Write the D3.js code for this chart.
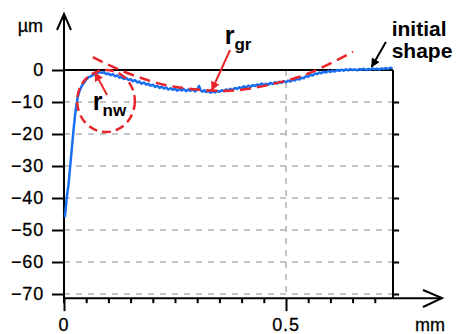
<!DOCTYPE html>
<html>
<head>
<meta charset="utf-8">
<script src="https://cdn.jsdelivr.net/npm/d3@7"></script>
<style>
  body { margin: 0; background: #fff; }
  text { font-family: "Liberation Sans", Arial, sans-serif; }
</style>
</head>
<body>
<figure id="chart" style="margin:0"></figure>
<script>
// measured profile (x in mm, depth in µm)
const profileX = [0.002,0.004,0.006,0.008,0.010,0.012,0.014,0.016,0.018,0.020,0.022,0.025,0.028,0.031,0.035,0.040,0.045,0.050,0.055,0.060,0.065,0.070,0.075,0.080,0.085,0.090,0.095,
  0.100,0.105,0.110,0.115,0.120,0.125,0.130,0.135,0.140,0.145,0.150,0.155,0.160,0.165,0.170,0.175,0.180,0.185,0.190,0.195,0.200,0.205,0.210,0.215,0.220,0.225,0.230,0.235,
  0.240,0.245,0.250,0.255,0.260,0.265,0.270,0.275,0.280,0.285,0.290,0.295,0.300,0.304,0.308,0.312,0.316,0.320,0.325,0.330,0.335,0.340,0.345,0.350,0.355,0.360,0.365,0.370,
  0.375,0.380,0.385,0.390,0.395,0.400,0.405,0.410,0.415,0.420,0.425,0.430,0.435,0.440,0.445,0.450,0.455,0.460,0.465,0.470,0.475,0.480,0.485,0.490,0.495,0.500,
  0.505,0.510,0.515,0.520,0.525,0.530,0.535,0.540,0.545,0.550,0.555,0.560,0.565,0.570,0.575,0.580,0.585,0.590,0.595,0.600,0.605,0.610,0.615,0.620,0.625,0.630,
  0.635,0.640,0.645,0.650,0.655,0.660,0.665,0.670,0.675,0.680,0.685,0.690,0.695,0.700,0.705,0.710,0.715,0.720,0.725,0.730,0.735,0.740]
const profileY = [-46,-43,-40,-38,-36,-33,-30,-27,-24,-21,-18,-14,-11,-8.5,-6.5,-5,-4,-3,-2.3,-2,-1.6,-1.2,-1.0,-0.6,-0.9,-0.7,-1.3,
  -1.1,-1.6,-1.3,-2.0,-1.7,-2.4,-2.2,-2.8,-2.5,-3.1,-2.9,-3.5,-3.2,-3.9,-3.6,-4.3,-3.9,-4.6,-4.3,-4.9,-4.6,-5.3,-4.9,-5.6,-5.2,-5.8,-5.4,-6.1,
  -5.7,-6.2,-5.8,-6.5,-5.9,-6.4,-6.0,-6.6,-6.1,-6.5,-6.0,-6.7,-6.2,-5.0,-6.4,-6.8,-6.3,-6.9,-6.5,-7.1,-6.6,-7.0,-6.5,-6.8,-6.3,-6.6,-6.1,-6.4,
  -5.9,-6.2,-5.6,-5.9,-5.4,-5.7,-5.1,-5.5,-4.9,-5.3,-4.7,-5.0,-4.5,-4.8,-4.2,-4.7,-4.3,-4.6,-4.0,-4.4,-3.8,-4.2,-3.7,-4.0,-3.5,-3.8,
  -3.3,-3.6,-3.0,-3.3,-2.7,-3.0,-2.4,-2.6,-1.9,-2.1,-1.5,-1.7,-1.1,-1.3,-0.8,-1.0,-0.5,-0.8,-0.3,-0.6,-0.2,-0.5,0.0,-0.3,0.1,-0.2,
  0.2,-0.1,0.3,0.0,0.2,-0.1,0.3,0.1,0.4,0.0,0.3,0.1,0.5,0.2,0.4,0.1,0.5,0.3,0.6,0.3,0.7,0.5]

// fitted groove radius r_gr
const grX = [0.065,0.126,0.194,0.261,0.347,0.419,0.509,0.577,0.651]
const grY = [4,0,-3.4,-5.5,-6.5,-5.8,-3.0,0.5,5.7]

// fitted nose radius r_nw (centre and radii)
const nwCircle = { cx: 0.0946, cy: -9.7, rx: 0.065, ry: 9.7 }

const yTicks = [0,-10,-20,-30,-40,-50,-60,-70]
const xTicks = [0,0.05,0.1,0.15,0.2,0.25,0.3,0.35,0.4,0.45,0.5,0.55,0.6,0.65,0.7]
const xLabels = [0,0.5]

const xMax = 0.741
const yBottom = -71.3

const svg = d3.select('#chart').append('svg')
  .attr('width', 457).attr('height', 334)

const x = d3.scaleLinear().domain([0, 0.5]).range([64, 286])
const y = d3.scaleLinear().domain([-70, 0]).range([294, 70])

const defs = svg.append('defs')
function marker(id, color) {
  defs.append('marker').attr('id', id)
    .attr('viewBox', '0 0 10 10').attr('refX', 9).attr('refY', 5)
    .attr('markerWidth', 4.5).attr('markerHeight', 4.5).attr('orient', 'auto')
    .append('path').attr('d', 'M0,0L10,5L0,10z').attr('fill', color)
}
marker('redHead', '#e8262a')
marker('blackHead', '#000')

// grid
svg.append('g').selectAll('line')
  .data(yTicks.filter(d => d < 0)).enter().append('line')
  .attr('x1', x(0)).attr('x2', x(xMax))
  .attr('y1', d => y(d)).attr('y2', d => y(d))
  .attr('stroke', '#b3b3b3').attr('stroke-width', 1.5).attr('stroke-dasharray', '6,6')
svg.append('line')
  .attr('x1', x(0.5)).attr('x2', x(0.5)).attr('y1', y(0)).attr('y2', y(yBottom))
  .attr('stroke', '#b3b3b3').attr('stroke-width', 1.5).attr('stroke-dasharray', '6,6')

// left axis
const yAxis = svg.append('g').attr('transform', 'translate(' + x(0) + ',0)')
  .call(d3.axisLeft(y).tickValues(yTicks).tickSize(12).tickPadding(8).tickFormat(d3.format('d')))
yAxis.select('.domain').remove()
yAxis.selectAll('line').attr('stroke', '#000').attr('stroke-width', 2)
yAxis.selectAll('text').attr('font-size', 18).attr('fill', '#000').attr('letter-spacing', 0.8)
  .attr('stroke', '#000').attr('stroke-width', 0.3)

// right box side
const rAxis = svg.append('g').attr('transform', 'translate(' + x(xMax) + ',0)')
  .call(d3.axisRight(y).tickValues(yTicks.filter(d => d < 0)).tickSize(6).tickFormat(''))
rAxis.select('.domain').remove()
rAxis.selectAll('line').attr('stroke', '#000').attr('stroke-width', 2)
svg.append('line')
  .attr('x1', x(xMax)).attr('x2', x(xMax)).attr('y1', y(0)).attr('y2', y(yBottom))
  .attr('stroke', '#000').attr('stroke-width', 2)

// zero line
svg.append('line')
  .attr('x1', x(0)).attr('x2', x(xMax)).attr('y1', y(0)).attr('y2', y(0))
  .attr('stroke', '#000').attr('stroke-width', 2)

// bottom axis
const xAxis = svg.append('g').attr('transform', 'translate(0,' + y(yBottom) + ')')
  .call(d3.axisBottom(x).tickValues(xTicks).tickSize(5).tickFormat(''))
xAxis.select('.domain').remove()
xAxis.selectAll('line').attr('stroke', '#000').attr('stroke-width', 2)
  .attr('y2', d => xLabels.includes(d) ? 13 : 5)
svg.append('g').selectAll('text').data(xLabels).enter().append('text')
  .attr('x', d => x(d)).attr('y', 331).attr('text-anchor', 'middle')
  .attr('font-size', 18).attr('letter-spacing', 0.8)
  .attr('stroke', '#000').attr('stroke-width', 0.3)
  .text(d => d === 0 ? '0' : d)

// axis lines with open arrowheads
svg.append('line').attr('x1', x(0)).attr('x2', x(0)).attr('y1', y(yBottom) + 5).attr('y2', 14)
  .attr('stroke', '#000').attr('stroke-width', 2)
svg.append('path').attr('d', 'M57,30L' + x(0) + ',14L71,30')
  .attr('fill', 'none').attr('stroke', '#000').attr('stroke-width', 2)
svg.append('line').attr('x1', x(0)).attr('x2', 442).attr('y1', y(yBottom)).attr('y2', y(yBottom))
  .attr('stroke', '#000').attr('stroke-width', 2)
svg.append('path').attr('d', 'M423,290L442,' + y(yBottom) + 'L423,307')
  .attr('fill', 'none').attr('stroke', '#000').attr('stroke-width', 2)

svg.append('text').attr('x', 43).attr('y', 32).attr('text-anchor', 'end')
  .attr('font-size', 18).attr('stroke', '#000').attr('stroke-width', 0.3).text('µm')
svg.append('text').attr('x', 430).attr('y', 331).attr('text-anchor', 'middle')
  .attr('font-size', 18).attr('stroke', '#000').attr('stroke-width', 0.3).text('mm')

// profile
const profile = profileX.map((d, i) => [d, profileY[i]])
svg.append('path').datum(profile)
  .attr('d', d3.line().x(d => x(d[0])).y(d => y(d[1])))
  .attr('fill', 'none').attr('stroke', '#1a6ef0').attr('stroke-width', 2.5)
  .attr('stroke-linejoin', 'round')

// r_gr dashed fit
const gr = grX.map((d, i) => [d, grY[i]])
svg.append('path').datum(gr)
  .attr('d', d3.line().x(d => x(d[0])).y(d => y(d[1])).curve(d3.curveNatural))
  .attr('fill', 'none').attr('stroke', '#e8262a').attr('stroke-width', 2.5)
  .attr('stroke-dasharray', '11,6')

// r_nw dashed circle
svg.append('ellipse')
  .attr('cx', x(nwCircle.cx)).attr('cy', y(nwCircle.cy))
  .attr('rx', x(nwCircle.rx) - x(0)).attr('ry', y(0) - y(nwCircle.ry))
  .attr('fill', 'none').attr('stroke', '#e8262a').attr('stroke-width', 2.5)
  .attr('stroke-dasharray', '9,5')

// annotation arrows
function arrow(from, to, color, head) {
  svg.append('line')
    .attr('x1', x(from[0])).attr('y1', y(from[1]))
    .attr('x2', x(to[0])).attr('y2', y(to[1]))
    .attr('stroke', color).attr('stroke-width', 2)
    .attr('marker-end', 'url(#' + head + ')')
}
arrow([0.097, -7.8], [0.070, -0.9], '#e8262a', 'redHead')
arrow([0.374, 6.25], [0.333, -6.25], '#e8262a', 'redHead')
arrow([0.725, 8.75], [0.693, 1.0], '#000', 'blackHead')

// labels
function radiusLabel(px, py, sub) {
  const t = svg.append('text').attr('x', x(px)).attr('y', y(py))
    .attr('font-weight', 'bold').attr('font-size', 25)
  t.append('tspan').text('r')
  t.append('tspan').attr('font-size', 17).attr('dy', 6).text(sub)
}
radiusLabel(0.065, -12.5, 'nw')
radiusLabel(0.362, 8.1, 'gr')

svg.append('text').attr('x', x(0.738)).attr('y', y(10.5))
  .attr('font-weight', 'bold').attr('font-size', 21).text('initial')
svg.append('text').attr('x', x(0.738)).attr('y', y(3.6))
  .attr('font-weight', 'bold').attr('font-size', 21).text('shape')
</script>
</body>
</html>
